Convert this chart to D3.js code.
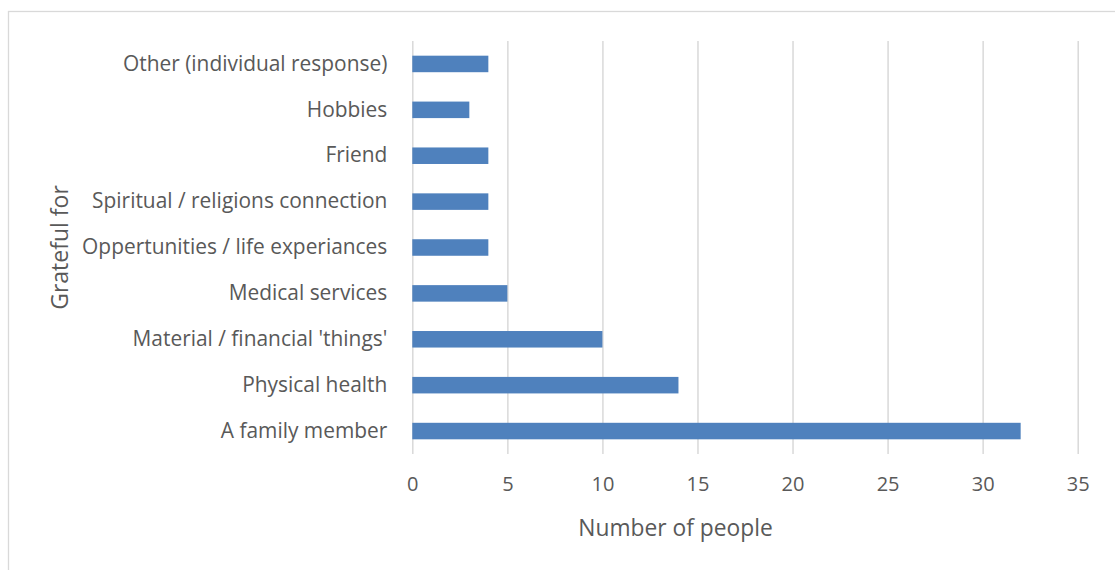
<!DOCTYPE html>
<html>
<head>
<meta charset="utf-8">
<script src="https://cdn.jsdelivr.net/npm/d3@7"></script>
<style>
  html, body { margin: 0; padding: 0; background: #fff; }
  svg { display: block; font-family: "Open Sans", sans-serif; }
</style>
</head>
<body>
<svg id="chart" width="1115" height="570"></svg>
<script>
// Survey responses: what people are grateful for
const categories = [
  "Other (individual response)",
  "Hobbies",
  "Friend",
  "Spiritual / religions connection",
  "Oppertunities / life experiances",
  "Medical services",
  "Material / financial 'things'",
  "Physical health",
  "A family member"
];
const counts = [4, 3, 4, 4, 4, 5, 10, 14, 32];
const xTicks = [0, 5, 10, 15, 20, 25, 30, 35];
const xTitle = "Number of people";
const yTitle = "Grateful for";

const svg = d3.select("#chart");
const margin = { left: 412.3, right: 1077.7, top: 41, bottom: 454 };
const textColor = "#595959";
const gridColor = "#d9d9d9";
const barColor = "#4f81bd";

// Chart frame
svg.append("rect")
  .attr("x", 8.5).attr("y", 11.5)
  .attr("width", 1200).attr("height", 700)
  .attr("fill", "#fff")
  .attr("stroke", gridColor)
  .attr("stroke-width", 1.3);

const x = d3.scaleLinear().domain([0, 35]).range([margin.left, margin.right]);
const y = d3.scaleBand().domain(categories)
  .range([margin.top, margin.bottom])
  .paddingInner(0.64).paddingOuter(0.32);

// Vertical gridlines + tick labels
const xAxis = svg.append("g")
  .attr("transform", `translate(0,${margin.bottom})`)
  .call(d3.axisBottom(x).tickValues(xTicks)
    .tickSize(-(margin.bottom - margin.top)).tickPadding(23));
xAxis.select(".domain").remove();
xAxis.selectAll(".tick line").attr("stroke", gridColor).attr("stroke-width", 1.5);
xAxis.selectAll(".tick text")
  .attr("fill", textColor).attr("font-size", 20)
  .style("font-family", "'Open Sans', sans-serif");

// Category labels
const yAxis = svg.append("g")
  .attr("transform", `translate(${margin.left},0)`)
  .call(d3.axisLeft(y).tickSize(0).tickPadding(25));
yAxis.select(".domain").remove();
yAxis.selectAll(".tick text")
  .attr("fill", textColor).attr("font-size", 20.9)
  .style("font-family", "'Open Sans', sans-serif");

// Bars
svg.append("g").selectAll("rect")
  .data(categories.map((c, i) => ({ c, v: counts[i] })))
  .join("rect")
  .attr("x", x(0))
  .attr("y", d => y(d.c))
  .attr("width", d => x(d.v) - x(0))
  .attr("height", y.bandwidth())
  .attr("fill", barColor);

// Axis titles
svg.append("text")
  .attr("x", 675.5).attr("y", 527)
  .attr("text-anchor", "middle").attr("dominant-baseline", "central")
  .attr("fill", textColor).attr("font-size", 22.8)
  .text(xTitle);

svg.append("text")
  .attr("transform", `translate(59,247.5) rotate(-90)`)
  .attr("text-anchor", "middle").attr("dominant-baseline", "central")
  .attr("fill", textColor).attr("font-size", 23)
  .text(yTitle);
</script>
</body>
</html>
